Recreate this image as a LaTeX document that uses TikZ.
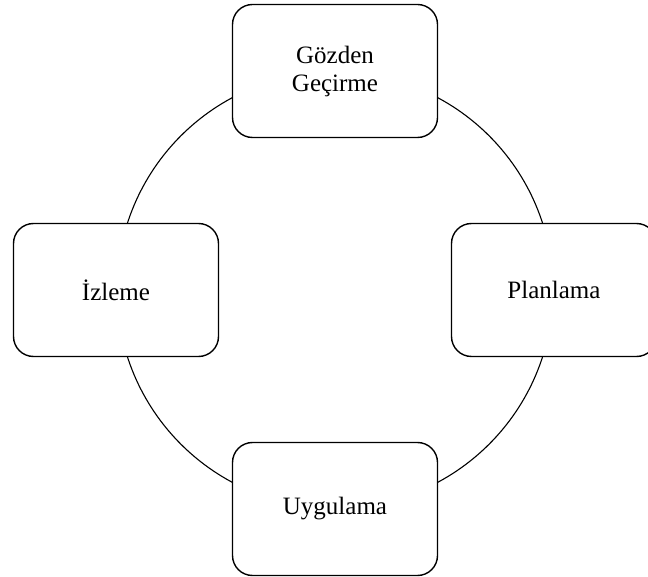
\documentclass[tikz,border=0pt]{standalone}
\usepackage{fontspec}
\setmainfont{Liberation Serif}
\begin{document}
\begin{tikzpicture}[x=1pt,y=1pt,
		stage/.style={draw, line width=1.4pt, rounded corners=20pt, fill=white,
				minimum width=205pt, minimum height=133pt, align=center,
				font=\fontsize{25}{28}\selectfont}]
	% Canvas size
	\pgfmathsetmacro{\W}{648}
	\pgfmathsetmacro{\H}{576}
	\useasboundingbox (0,0) rectangle (\W,\H);

	% Cycle centre, radius and offset of the boxes
	\pgfmathsetmacro{\cx}{335}
	\pgfmathsetmacro{\cy}{286}
	\pgfmathsetmacro{\rad}{218}
	\pgfmathsetmacro{\off}{219}

	% The ring behind the boxes
	\coordinate (centre) at (\cx,\cy);
	\draw[line width=1.1pt] (centre) circle (\rad pt);

	% Stages of the cycle
	\node[stage] (review) at (\cx, \cy+\off) {Gözden\\Geçirme};
	\node[stage] (plan) at (\cx+\off, \cy) {Planlama};
	\node[stage] (apply) at (\cx, \cy-\off) {Uygulama};
	\node[stage] (monitor) at (\cx-\off, \cy) {İzleme};
\end{tikzpicture}
\end{document}
